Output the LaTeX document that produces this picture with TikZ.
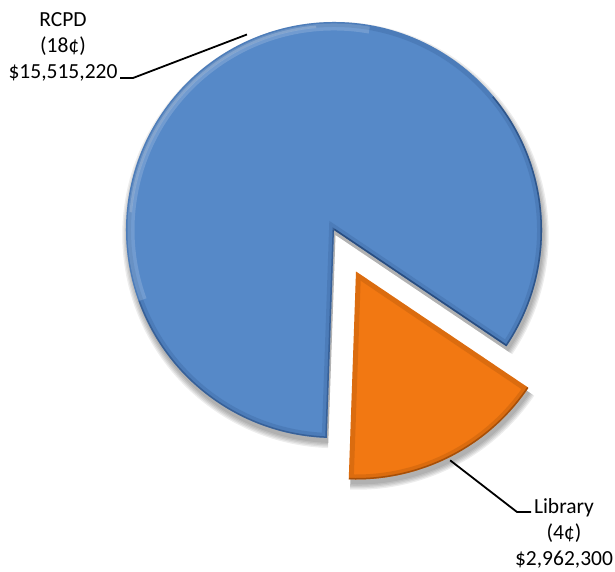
\documentclass[tikz,border=0pt]{standalone}
\usepackage{fontspec}
\setmainfont{Carlito}
\definecolor{pieblue}{RGB}{86,137,200}
\definecolor{pieblued}{RGB}{35,70,120}
\definecolor{pieorange}{RGB}{242,120,18}
\definecolor{pieoranged}{RGB}{130,60,5}
\tikzset{
  lbl/.style={align=center,font=\fontsize{21.5}{26}\selectfont,inner sep=0pt},
  leader/.style={draw=black,line width=1.8pt}
}
\begin{document}
\begin{tikzpicture}[x=1pt,y=1pt]
\useasboundingbox (0,0) rectangle (615,571);
\def\R{208}
\coordinate (C) at (334,341);
\coordinate (O) at (356,299.5);
% shadows
\foreach \k in {0,1,2,3,4}{
  \fill[black,opacity=0.07] ([shift={(1.5,-5)}]C) -- ++(-34:\R+\k*1.3) arc[start angle=-34,end angle=268,radius=\R+\k*1.3] -- cycle;
  \fill[black,opacity=0.07] ([shift={(1.5,-5)}]O) -- ++(268:\R+\k*1.3) arc[start angle=268,end angle=326,radius=\R+\k*1.3] -- cycle;
}
% blue slice
\fill[pieblue] (C) -- ++(-34:\R) arc[start angle=-34,end angle=268,radius=\R] -- cycle;
\begin{scope}
  \clip (C) -- ++(-34:\R) arc[start angle=-34,end angle=268,radius=\R] -- cycle;
  \draw[pieblued,line width=10pt,opacity=0.18] (C) -- ++(-34:\R) arc[start angle=-34,end angle=268,radius=\R] -- cycle;
  \draw[pieblued,line width=3pt,opacity=0.7] (C) -- ++(-34:\R) arc[start angle=-34,end angle=40,radius=\R];
  \draw[pieblued,line width=3pt,opacity=0.5] (C) ++(200:\R) arc[start angle=200,end angle=268,radius=\R] -- (C) -- ++(-34:\R);
  \draw[white,line width=7pt,opacity=0.16] (C) ++(80:\R-5) arc[start angle=80,end angle=200,radius=\R-5];
  \draw[white,line width=2.5pt,opacity=0.18] (C) ++(95:\R-4) arc[start angle=95,end angle=175,radius=\R-4];
\end{scope}
% orange slice
\fill[pieorange] (O) -- ++(268:\R) arc[start angle=268,end angle=326,radius=\R] -- cycle;
\begin{scope}
  \clip (O) -- ++(268:\R) arc[start angle=268,end angle=326,radius=\R] -- cycle;
  \draw[pieoranged,line width=10pt,opacity=0.2] (O) -- ++(268:\R) arc[start angle=268,end angle=326,radius=\R] -- cycle;
  \draw[pieoranged,line width=3pt,opacity=0.6] (O) ++(268:\R) arc[start angle=268,end angle=326,radius=\R];
\end{scope}
% labels
\node[lbl] (rcpd) at (63,524) {RCPD\\(18¢)\\\$15,515,220};
\node[lbl] (lib) at (564,38) {Library\\(4¢)\\\$2,962,300};
\coordinate (rcpdarc) at ([shift={(114:214)}]C);
\coordinate (rcpdend) at (120,493);
\coordinate (libarc) at ([shift={(-63.5:211)}]O);
\coordinate (libend) at (531,59);
\draw[leader] (rcpdend) -- ++(13,0) -- (rcpdarc);
\draw[leader] (libarc) -- (517,59) -- (libend);
\end{tikzpicture}
\end{document}
